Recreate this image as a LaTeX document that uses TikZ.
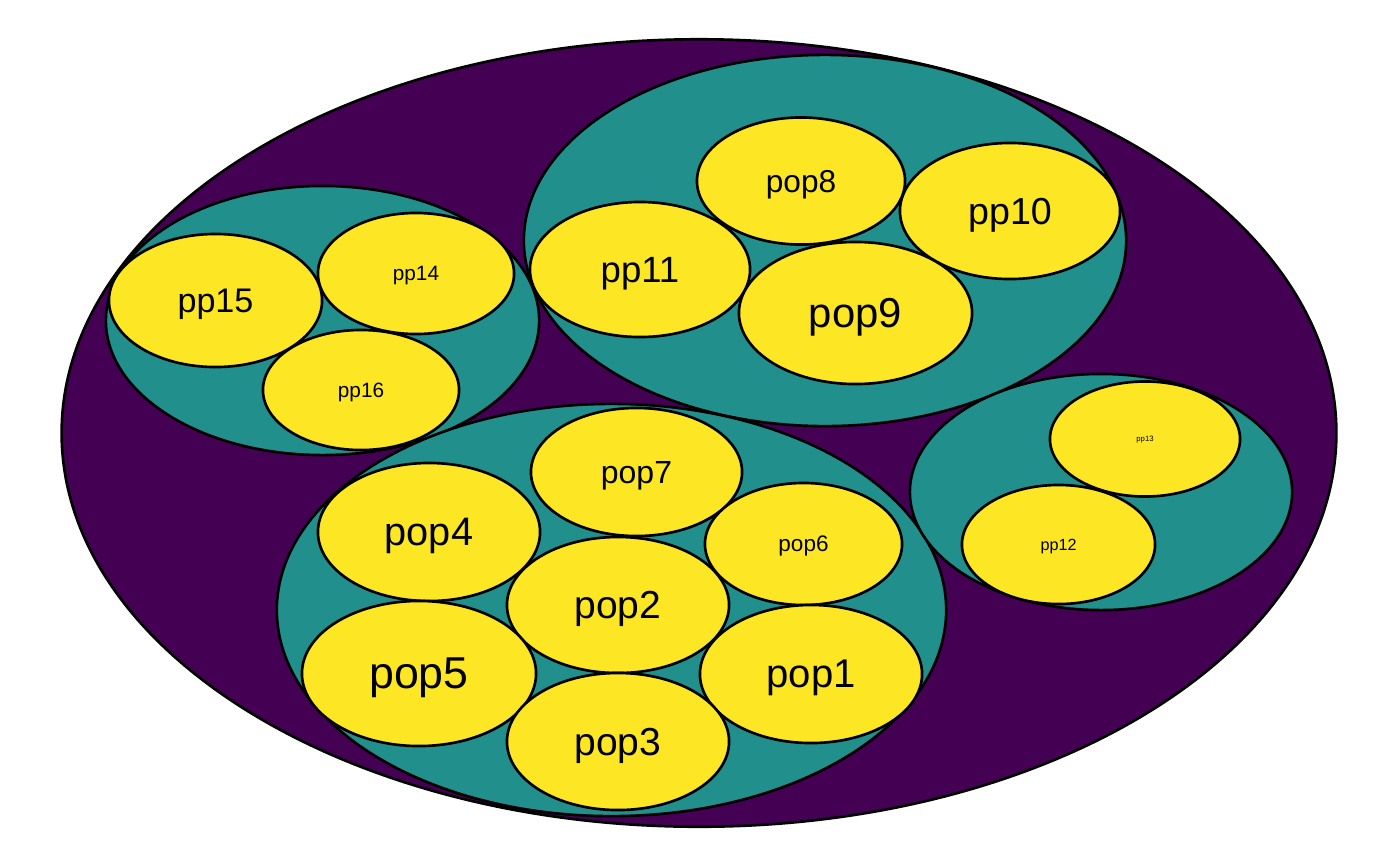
\documentclass[tikz,border=0pt]{standalone}
\usepackage{fontspec}
\setmainfont{Liberation Sans}
\usepackage{tikz}
\usetikzlibrary{shapes.geometric}
\definecolor{vpurple}{HTML}{440154}
\definecolor{vteal}{HTML}{21908C}
\definecolor{vyellow}{HTML}{FDE725}

\begin{document}
\begin{tikzpicture}[x=0.01cm, y=-0.01cm]
    \tikzset{blob/.style = {shape=ellipse, draw=black, line width=0.75pt, inner sep=0pt}}
    \tikzset{outer/.style = {blob, fill=vpurple}}
    \tikzset{cluster/.style = {blob, fill=vteal}}
    \tikzset{leaf/.style = {blob, fill=vyellow, text depth=0pt}}
    \tikzset{fsz/.style = {font=\fontsize{#1}{#1}\selectfont}}
    \useasboundingbox (0,0) rectangle (1400,866);

    % outer level
    \node[outer, minimum width=12.74cm, minimum height=7.87cm] (all) at (699,433) {};

    % clusters
    \node[cluster, minimum width=4.33cm, minimum height=2.69cm] (g1) at (322.5,320.5) {};
    \node[cluster, minimum width=6.02cm, minimum height=3.71cm] (g2) at (825,240.5) {};
    \node[cluster, minimum width=6.69cm, minimum height=4.12cm] (g3) at (611.5,610) {};
    \node[cluster, minimum width=3.82cm, minimum height=2.36cm] (g4) at (1101,492) {};

    % populations, left cluster
    \node[leaf, fsz=9.7, minimum width=2.13cm, minimum height=1.33cm] (pp15) at (215.5,300.5) {pp15};
    \node[leaf, fsz=5.9, minimum width=1.96cm, minimum height=1.21cm] (pp14) at (416,273.5) {pp14};
    \node[leaf, fsz=5.9, minimum width=1.96cm, minimum height=1.20cm] (pp16) at (361,390) {pp16};

    % populations, top cluster
    \node[leaf, fsz=9.0, minimum width=2.08cm, minimum height=1.27cm] (pop8) at (801,181) {pop8};
    \node[leaf, fsz=10.7, minimum width=2.20cm, minimum height=1.36cm] (pp10) at (1010,211) {pp10};
    \node[leaf, fsz=10.4, minimum width=2.20cm, minimum height=1.35cm] (pp11) at (640,269.5) {pp11};
    \node[leaf, fsz=11.9, minimum width=2.33cm, minimum height=1.42cm] (pop9) at (855.5,313) {pop9};

    % populations, right cluster
    \node[leaf, fsz=2.2, minimum width=1.90cm, minimum height=1.15cm] (pp13) at (1145,439) {pp13};
    \node[leaf, fsz=4.6, minimum width=1.93cm, minimum height=1.19cm] (pp12) at (1058.5,544.5) {pp12};

    % populations, bottom cluster
    \node[leaf, fsz=9.1, minimum width=2.11cm, minimum height=1.28cm] (pop7) at (636.5,472) {pop7};
    \node[leaf, fsz=11.3, minimum width=2.22cm, minimum height=1.38cm] (pop4) at (429,532) {pop4};
    \node[leaf, fsz=6.4, minimum width=1.97cm, minimum height=1.22cm] (pop6) at (803.5,544) {pop6};
    \node[leaf, fsz=11.1, minimum width=2.22cm, minimum height=1.36cm] (pop2) at (618,605) {pop2};
    \node[leaf, fsz=12.7, minimum width=2.34cm, minimum height=1.45cm] (pop5) at (419,673.5) {pop5};
    \node[leaf, fsz=11.4, minimum width=2.22cm, minimum height=1.38cm] (pop1) at (811,674) {pop1};
    \node[leaf, fsz=11.1, minimum width=2.22cm, minimum height=1.37cm] (pop3) at (618,741.5) {pop3};
\end{tikzpicture}
\end{document}
